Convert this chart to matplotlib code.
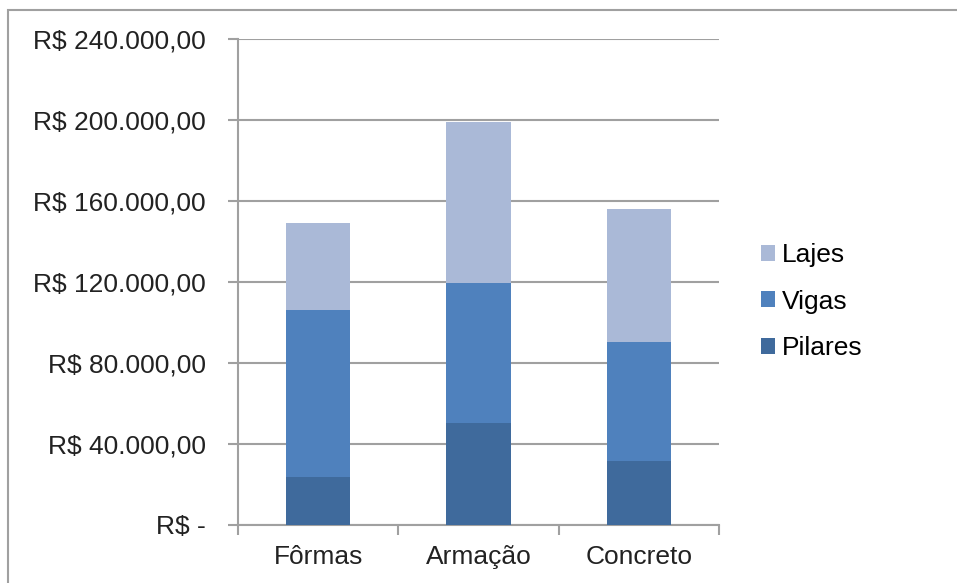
import numpy as np
import matplotlib
matplotlib.use("Agg")
import matplotlib.pyplot as plt
from matplotlib.ticker import FuncFormatter
from matplotlib.patches import Rectangle

plt.rcParams['font.family'] = ['Liberation Sans', 'DejaVu Sans']

categorias = ["Fôrmas", "Armação", "Concreto"]
pilares = [23700, 50600, 31800]
vigas = [82300, 68900, 58800]
lajes = [43000, 79300, 65600]

cor_pilares = "#3F6A9C"
cor_vigas = "#4F81BD"
cor_lajes = "#AAB9D7"
cinza = "#A0A0A0"
fs = 19


def reais(v, pos):
    if v == 0:
        return "R$ -"
    s = f"{v:,.2f}".replace(",", "X").replace(".", ",").replace("X", ".")
    return "R$ " + s


fig = plt.figure(figsize=(9.57, 5.83), dpi=100)
ax = fig.add_axes([238 / 957, 1 - 525 / 583, (719 - 238) / 957, (525 - 39) / 583])

x = np.arange(len(categorias))
base2 = np.array(pilares) + np.array(vigas)
b1 = ax.bar(x, pilares, width=0.4, color=cor_pilares, label="Pilares", zorder=3)
b2 = ax.bar(x, vigas, width=0.4, bottom=pilares, color=cor_vigas, label="Vigas", zorder=3)
b3 = ax.bar(x, lajes, width=0.4, bottom=base2, color=cor_lajes, label="Lajes", zorder=3)

ax.set_xlim(-0.5, 2.5)
ax.set_ylim(0, 240000)
ax.set_yticks(np.arange(0, 240001, 40000))
ax.yaxis.set_major_formatter(FuncFormatter(reais))
ax.yaxis.grid(True, color=cinza, linewidth=1.5, zorder=0)

# ticks do eixo x ficam entre as categorias
ax.set_xticks([-0.5, 0.5, 1.5, 2.5])
ax.set_xticklabels([])
ax.set_xticks(x, minor=True)
ax.set_xticklabels(categorias, minor=True)
ax.tick_params(axis='x', which='minor', length=0, pad=14.5, labelsize=fs, colors="#222222")
ax.tick_params(axis='x', which='major', length=7, width=1.5, color=cinza)
ax.tick_params(axis='y', length=7, width=1.5, color=cinza, labelsize=fs, pad=16,
               labelcolor="#222222")

for lado in ["top", "right"]:
    ax.spines[lado].set_visible(False)
for lado in ["left", "bottom"]:
    ax.spines[lado].set_color(cinza)
    ax.spines[lado].set_linewidth(1.5)

ax.legend([b3, b2, b1], ["Lajes", "Vigas", "Pilares"], frameon=False,
          loc="center left", bbox_to_anchor=(737 / 957, 1 - 301.5 / 583),
          bbox_transform=fig.transFigure, fontsize=fs, handlelength=0.55,
          handleheight=0.55, handletextpad=0.25, labelspacing=0.85)

fig.patches.append(Rectangle((8 / 957, -0.05), 1.2, 1 - 10 / 583 + 0.05,
                             transform=fig.transFigure, fill=False,
                             edgecolor=cinza, linewidth=1.5))

fig.savefig("out.png", dpi=100)
